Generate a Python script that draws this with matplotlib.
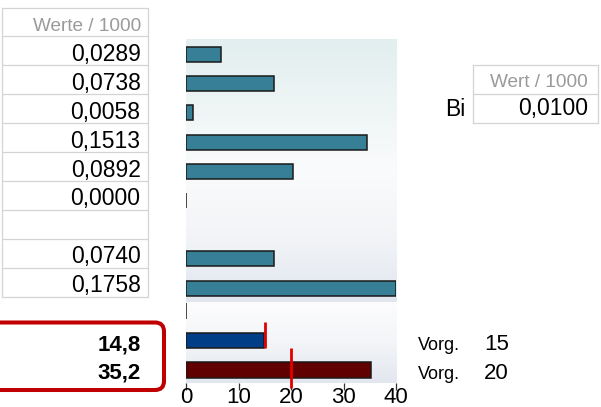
import numpy as np
import matplotlib
matplotlib.use("Agg")
import matplotlib.pyplot as plt
from matplotlib.patches import FancyBboxPatch
from matplotlib.colors import LinearSegmentedColormap

# ---------------- data ----------------
werte_header = "Werte / 1000"
werte = [0.0289, 0.0738, 0.0058, 0.1513, 0.0892, 0.0000, np.nan, 0.0740, 0.1758]
ist_werte = [0.0, 14.8, 35.2]          # bottom chart bars (first one is zero)
ist_labels = ["14,8", "35,2"]
vorgaben = [15, 20]
bi_header = "Wert / 1000"
bi_label = "Bi"
bi_wert = 0.0100
vorg_label = "Vorg."
x_ticks = [0, 10, 20, 30, 40]
x_max = 40


def fmt(v, d):
    return f"{v:.{d}f}".replace(".", ",")


plt.rcParams['font.family'] = ['Liberation Sans', 'DejaVu Sans']

W, H = 601, 407
fig = plt.figure(figsize=(W / 100, H / 100), dpi=100)

# overlay in pixel coordinates for the spreadsheet parts
ov = fig.add_axes([0, 0, 1, 1])
ov.set_xlim(0, W)
ov.set_ylim(H, 0)
ov.axis('off')
ov.patch.set_alpha(0)

grid = '#D4D4D4'
# left table
top, row_h, x0, x1 = 7.5, 28.9, 2, 148
n_rows = len(werte) + 1
for k in range(n_rows + 1):
    y = top + k * row_h
    ov.plot([x0, x1], [y, y], color=grid, lw=0.9, solid_capstyle='butt')
for xx in (x0, x1):
    ov.plot([xx, xx], [top, top + n_rows * row_h], color=grid, lw=0.9)
ov.text(141.5, top + row_h - 5.7, werte_header, ha='right', va='baseline',
        fontsize=13.7, color='#9A9A9A')
for i, v in enumerate(werte):
    if np.isnan(v):
        continue
    ov.text(140.5, top + (i + 2) * row_h - 4.3, fmt(v, 4), ha='right',
            va='baseline', fontsize=16.5, color='black')

# right small table
rx0, rx1 = 472.7, 598
for y in (65, 93.6, 122.7):
    ov.plot([rx0, rx1], [y, y], color=grid, lw=0.9)
for xx in (rx0, rx1):
    ov.plot([xx, xx], [65, 122.7], color=grid, lw=0.9)
ov.text(588, 86.7, bi_header, ha='right', va='baseline', fontsize=13.7,
        color='#9A9A9A')
ov.text(588, 115.5, fmt(bi_wert, 4), ha='right', va='baseline',
        fontsize=16.5, color='black')
ov.text(465, 115.5, bi_label, ha='right', va='baseline', fontsize=16.5,
        color='black')

# red rounded box with bold values
box = FancyBboxPatch((-20, 322.5), 184, 67.5,
                     boxstyle="round,pad=0,rounding_size=9",
                     lw=2.9, edgecolor='#C00000', facecolor='none')
ov.add_patch(box)
for lab, yb in zip(ist_labels, (350, 379)):
    ov.text(140.5, yb, lab, ha='right', va='baseline', fontsize=16,
            fontweight='bold', color='black')

# Vorgabe labels
for v, yb in zip(vorgaben, (350.5, 379)):
    ov.text(418, yb, vorg_label, ha='left', va='baseline', fontsize=13,
            color='black')
    ov.text(484, yb, str(v), ha='left', va='baseline', fontsize=16,
            color='black')

# ---------------- charts ----------------
def gradient_bg(ax, colors):
    cmap = LinearSegmentedColormap.from_list('bg', colors)
    grad = np.linspace(0, 1, 256).reshape(-1, 1)
    # row 0 (first colour) at the top of the axes
    ax.imshow(grad, cmap=cmap, aspect='auto', extent=[0, 1, 0, 1],
              origin='upper', transform=ax.transAxes, zorder=0,
              interpolation='bilinear')


left, width = 186 / W, 210 / W
ax1 = fig.add_axes([left, 1 - 302 / H, width, 263 / H])
ax2 = fig.add_axes([left, 1 - 383 / H, width, 81 / H])

gradient_bg(ax1, ['#E2EEEF', '#EEF5F5', '#FAFBFC', '#F2F4F7', '#E1E6EE'])
gradient_bg(ax2, ['#FDFDFE', '#F3F5F8', '#E2E6EE'])

teal = '#367F96'
scale = x_max / np.nanmax(werte)
idx = [i for i, v in enumerate(werte) if not np.isnan(v)]
ax1.barh(idx, [werte[i] * scale for i in idx], height=0.51, color=teal,
         edgecolor='#1A1A1A', lw=1.1, zorder=2)
ax1.set_xlim(0, x_max)
ax1.set_ylim(8.476, -0.531)

ax2.barh(range(len(ist_werte)), ist_werte, height=0.51,
         color=['#003F87', '#003F87', '#600000'], edgecolor='#1A1A1A',
         lw=1.1, zorder=2)
# Vorgabe markers
for k, (v, (lo, hi)) in enumerate(zip(vorgaben, [(-0.63, 0.25), (-0.75, 0.61)])):
    yi = k + 1
    ax2.vlines(v, yi + lo, yi + hi, color='#E00000', lw=2.0, zorder=3,
               clip_on=False)
ax2.set_xlim(0, x_max)
ax2.set_ylim(2.44, -0.305)

for ax in (ax1, ax2):
    for s in ax.spines.values():
        s.set_visible(False)
    ax.set_yticks([])
ax1.set_xticks([])
ax2.set_xticks(x_ticks)
ax2.set_xticklabels([str(t) for t in x_ticks])
ax2.tick_params(axis='x', length=5, width=0.9, color='#333333', pad=-2,
                labelsize=16, labelcolor='black')

fig.savefig('out.png', dpi=100)
